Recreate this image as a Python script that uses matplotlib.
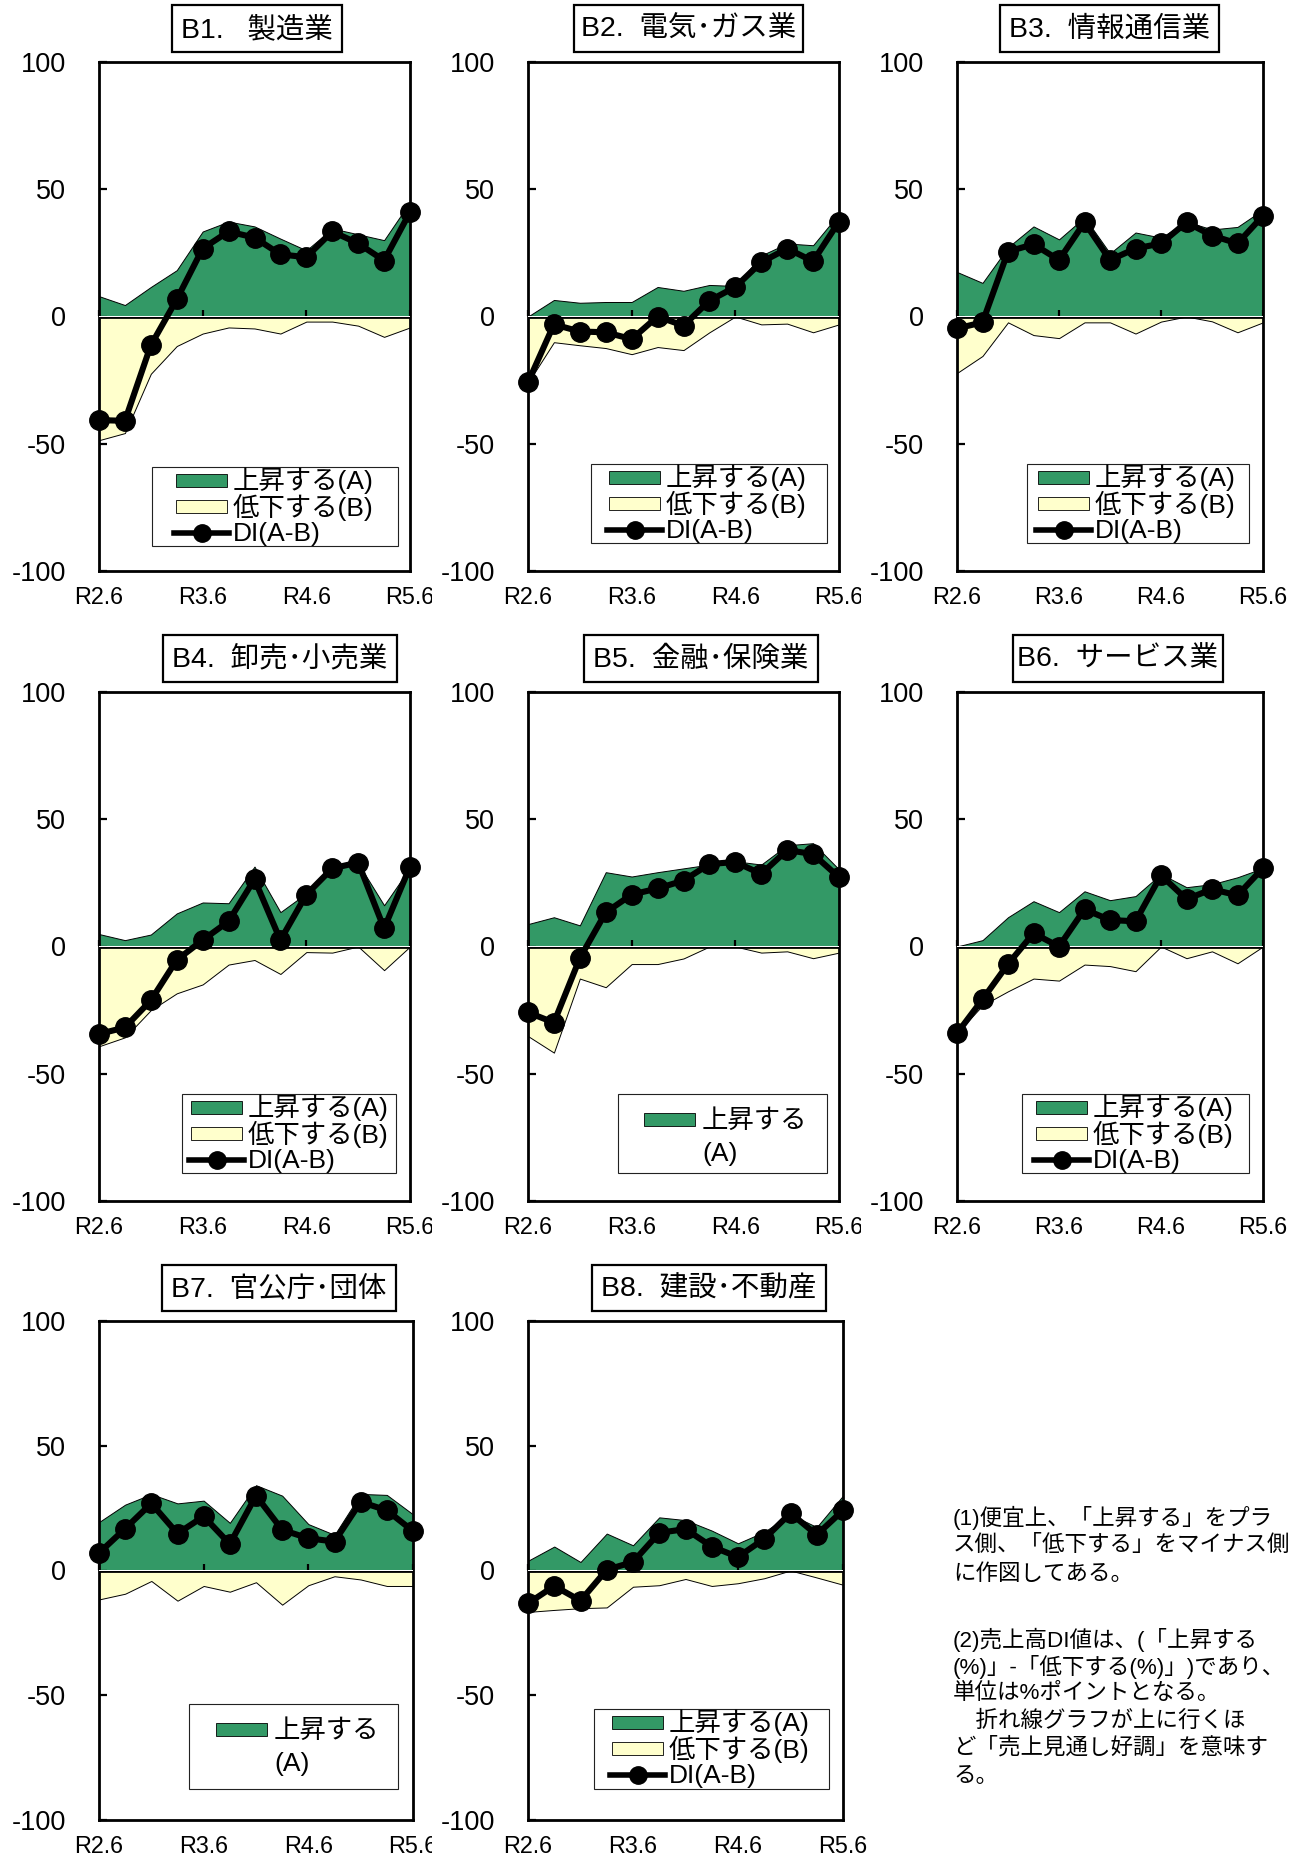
import matplotlib
matplotlib.use('Agg')
import matplotlib.pyplot as plt
from matplotlib.patches import Rectangle
from matplotlib.lines import Line2D
from matplotlib.transforms import Bbox, TransformedBbox

FAM = ['Liberation Sans', 'Noto Sans CJK JP']
plt.rcParams['font.family'] = FAM

# ---------------- data ----------------
periods = ['R2.6', 'R2.9', 'R2.12', 'R3.3', 'R3.6', 'R3.9', 'R3.12',
           'R4.3', 'R4.6', 'R4.9', 'R4.12', 'R5.3', 'R5.6']
tick_idx = [0, 4, 8, 12]
tick_labels = ['R2.6', 'R3.6', 'R4.6', 'R5.6']
y_ticks = [-100, -50, 0, 50, 100]
y_tick_labels = ['-100', '-50', '0', '50', '100']

titles = ['B1.   製造業', 'B2.  電気･ガス業', 'B3.  情報通信業', 'B4.  卸売･小売業',
          'B5.  金融･保険業', 'B6.  サービス業', 'B7.  官公庁･団体', 'B8.  建設･不動産']

b1_up = [8, 4.5, 11.6, 18.2, 33.4, 37.3, 35.4, 30.6, 26, 34.6, 32.3, 30, 45]
b1_down = [48.6, 45.8, 22.5, 11.6, 6.7, 4.3, 4.7, 6.7, 2, 2, 3.6, 8, 4.3]
b1_di = [-40.7, -41, -11.3, 6.7, 26.7, 33.4, 31, 24.4, 23.3, 33.4, 28.7, 22, 41]

b2_up = [0, 6.5, 5.4, 5.7, 5.7, 11.6, 10.1, 12.4, 12, 24, 28.7, 28, 40.4]
b2_down = [26, 10.1, 11.3, 12.4, 14.8, 12, 13.2, 6.2, 0, 3.1, 2.8, 6.2, 3.1]
b2_di = [-25.9, -3.1, -5.9, -6.2, -8.9, 0, -3.6, 6.2, 11.6, 21.3, 26.7, 21.7, 37.3]

b3_up = [17.5, 13.2, 27.2, 35.4, 30.3, 39, 24.8, 33, 31, 37.3, 34.2, 35.2, 42]
b3_down = [22.2, 15.5, 2.3, 7.3, 8.5, 2.3, 2.3, 6.7, 2, 0, 1.9, 6.2, 2.3]
b3_di = [-4.7, -2.3, 25.5, 28.4, 22.2, 37, 22.2, 26.7, 28.7, 37, 31.8, 28.7, 39.6]

b4_up = [4.9, 2.5, 4.7, 13, 17.3, 17, 31.4, 13.5, 20.9, 31.6, 32.7, 16.2, 31]
b4_down = [39.2, 35.7, 25, 18.4, 14.9, 7.1, 5.3, 10.8, 2.2, 2.4, 0, 9.3, 0]
b4_di = [-34.4, -31.8, -21.2, -5.3, 2.5, 9.9, 26.4, 2.5, 20.4, 30.7, 33, 7.1, 31.4]

b5_up = [8.8, 11.5, 8.3, 29.2, 27.5, 29.2, 30.7, 32.2, 33.5, 32.2, 39.8, 40.6, 30.3]
b5_down = [35.2, 41.7, 12.6, 16, 6.9, 6.9, 4.7, 0, 0, 2.4, 1.9, 4.6, 2.4]
b5_di = [-25.9, -29.9, -4.6, 13.4, 20.4, 22.8, 25.9, 32.4, 33.2, 28.5, 37.9, 36.3, 27.2]

b6_up = [0, 2.5, 11.5, 17.8, 13.5, 21.7, 18.2, 19.8, 28.5, 23.3, 24.5, 27.2, 30.8]
b6_down = [34, 23.1, 17.6, 12.6, 13.4, 7.1, 7.7, 9.7, 0, 4.6, 1.9, 6.6, 0]
b6_di = [-34.1, -20.8, -6.9, 5.2, 0, 14.6, 10.4, 9.9, 28, 18.6, 22.5, 20.1, 30.8]

b7_up = [19.4, 26.4, 30.6, 26.9, 28, 19.1, 34.2, 30, 18.6, 14.3, 30.7, 30.3, 22.5]
b7_down = [11.6, 9.3, 4.2, 12.1, 6.2, 8.5, 4.7, 13.7, 5.9, 2.3, 3.6, 6.2, 6.2]
b7_di = [7, 16.8, 26.9, 14.8, 21.7, 10.6, 30, 16.3, 12.9, 11.6, 27.5, 24.1, 15.8]

b8_up = [3.9, 9.6, 3.4, 14.8, 10.1, 21.3, 20.2, 16, 10.9, 15.5, 22.5, 17.4, 30]
b8_down = [16.6, 15.8, 15.1, 14.8, 6.5, 5.9, 3.4, 6.2, 5.1, 3.1, 0, 2.8, 5.7]
b8_di = [-13.2, -6.2, -12.1, 0.3, 3.4, 15.1, 16.6, 9.6, 5.4, 12.7, 23, 14.3, 24.1]

lbl_up = '上昇する(A)'
lbl_down = '低下する(B)'
lbl_di = 'DI(A-B)'

notes = ['(1)便宜上、「上昇する」をプラ',
         'ス側、「低下する」をマイナス側',
         'に作図してある。',
         '(2)売上高DI値は、(「上昇する',
         '(%)」-「低下する(%)」)であり、',
         '単位は%ポイントとなる。',
         '　折れ線グラフが上に行くほ',
         'ど「売上見通し好調」を意味す',
         'る。']

# ---------------- style / layout ----------------
GREEN = '#339966'
YELLOW = '#FFFFCC'
W, H = 1304, 1859

fig = plt.figure(figsize=(W / 100, H / 100), dpi=100)

R1 = (62, 571)
R2 = (692, 1201)
R3 = (1321, 1820)
T1 = (5, 52)
T2 = (635, 682)
T3 = (1265, 1311)

panels = [
    dict(up=b1_up, down=b1_down, di=b1_di, ax=(99, R1[0], 410, R1[1]), title=(172, T1[0], 342, T1[1]),
         leg=(152, 467, 398, 546), pl=176, full=True, clip=432),
    dict(up=b2_up, down=b2_down, di=b2_di, ax=(528, R1[0], 839, R1[1]), title=(574, T1[0], 803, T1[1]),
         leg=(591, 464, 827, 543), pl=609, full=True, clip=861),
    dict(up=b3_up, down=b3_down, di=b3_di, ax=(957, R1[0], 1263, R1[1]), title=(1000, T1[0], 1219, T1[1]),
         leg=(1027, 464, 1249, 543), pl=1038, full=True, clip=None),
    dict(up=b4_up, down=b4_down, di=b4_di, ax=(99, R2[0], 410, R2[1]), title=(163, T2[0], 397, T2[1]),
         leg=(182, 1094, 396, 1173), pl=191, full=True, clip=432),
    dict(up=b5_up, down=b5_down, di=b5_di, ax=(528, R2[0], 839, R2[1]), title=(584, T2[0], 818, T2[1]),
         leg=(618, 1094, 827, 1173), pl=644, full=False, clip=861),
    dict(up=b6_up, down=b6_down, di=b6_di, ax=(957, R2[0], 1263, R2[1]), title=(1013, T2[0], 1223, T2[1]),
         leg=(1022, 1094, 1249, 1173), pl=1036, full=True, clip=None),
    dict(up=b7_up, down=b7_down, di=b7_di, ax=(99, R3[0], 413, R3[1]), title=(162, T3[0], 396, T3[1]),
         leg=(189, 1704, 398, 1789), pl=216, full=False, clip=432),
    dict(up=b8_up, down=b8_down, di=b8_di, ax=(528, R3[0], 843, R3[1]), title=(592, T3[0], 826, T3[1]),
         leg=(594, 1709, 829, 1789), pl=612, full=True, clip=None),
]

x = list(range(len(periods)))

for p in panels:
    x0, y0, x1, y1 = p['ax']
    ax = fig.add_axes([x0 / W, 1 - y1 / H, (x1 - x0) / W, (y1 - y0) / H])
    neg = [-v for v in p['down']]
    ax.fill_between(x, 0, p['up'], facecolor=GREEN, edgecolor='black', lw=0.7, zorder=1)
    ax.fill_between(x, neg, 0, facecolor=YELLOW, edgecolor='black', lw=0.7, zorder=1)
    ax.axhline(0, color='black', lw=2.0, zorder=3)
    ax.plot(x, p['di'], color='black', lw=4.4, marker='o', ms=14, zorder=5, clip_on=False)
    ax.set_xlim(0, len(periods) - 1)
    ax.set_ylim(-100, 100)
    ax.set_yticks(y_ticks, y_tick_labels)
    ax.tick_params(axis='y', direction='in', length=5.5, width=1.6, pad=24, labelsize=19.5)
    ax.set_xticks(tick_idx, tick_labels)
    ax.tick_params(axis='x', length=0, pad=11, labelsize=16.8)
    for s in ax.spines.values():
        s.set_linewidth(2.0)
        s.set_color('black')
    if p['clip'] is not None:
        cb = TransformedBbox(Bbox.from_extents(0, 0, p['clip'] / W, 1), fig.transFigure)
        for t in ax.get_xticklabels():
            t.set_clip_on(True)
            t.set_clip_box(cb)
    # small tick marks on the zero line
    sec = ax.secondary_xaxis(0.5)
    sec.set_xticks(tick_idx, ['', '', '', ''])
    sec.tick_params(axis='x', direction='out', length=4.5, width=1.6)
    for s in sec.spines.values():
        s.set_visible(False)
    sec.set_zorder(4)

# ---------------- overlay for titles, legends, notes ----------------
ov = fig.add_axes([0, 0, 1, 1])
ov.set_xlim(0, W)
ov.set_ylim(H, 0)
ov.axis('off')
ov.set_zorder(10)
ov.patch.set_visible(False)

LFS = 19
for p, t in zip(panels, titles):
    tx0, ty0, tx1, ty1 = p['title']
    ov.add_patch(Rectangle((tx0, ty0), tx1 - tx0, ty1 - ty0, fc='white', ec='black', lw=1.6))
    ov.text((tx0 + tx1) / 2, (ty0 + ty1) / 2 + 1, t, ha='center', va='center',
            fontsize=20.5, family=FAM)

    lx0, ly0, lx1, ly1 = p['leg']
    ov.add_patch(Rectangle((lx0, ly0), lx1 - lx0, ly1 - ly0, fc='white', ec='#222222', lw=0.8))
    pl = p['pl']
    if p['full']:
        ys = [ly0 + 13, ly0 + 39, ly0 + 66]
        ov.add_patch(Rectangle((pl, ys[0] - 6.5), 51, 13, fc=GREEN, ec='black', lw=0.6))
        ov.add_patch(Rectangle((pl, ys[1] - 6.5), 51, 13, fc=YELLOW, ec='black', lw=0.6))
        ov.add_line(Line2D([pl - 2, pl + 25.5, pl + 53], [ys[2]] * 3, color='black', lw=4,
                           marker='o', ms=12.5, markevery=[1]))
        for yy, lab in zip(ys, [lbl_up, lbl_down, lbl_di]):
            ov.text(pl + 57, yy + 1, lab, ha='left', va='center', fontsize=LFS, family=FAM)
    else:
        yy = ly0 + 25
        ov.add_patch(Rectangle((pl, yy - 6.5), 51, 13, fc=GREEN, ec='black', lw=0.6))
        ov.text(pl + 58, yy + 2, lbl_up[:4], ha='left', va='center', fontsize=LFS, family=FAM)
        ov.text(pl + 58, yy + 35, lbl_up[4:], ha='left', va='center', fontsize=LFS, family=FAM)

note_y = [1518, 1545, 1574, 1640, 1667, 1693, 1721, 1748, 1777]
for yy, line in zip(note_y, notes):
    ov.text(953, yy, line, ha='left', va='center', fontsize=16.2, family=FAM)

fig.savefig('out.png', dpi=100, facecolor='white')
